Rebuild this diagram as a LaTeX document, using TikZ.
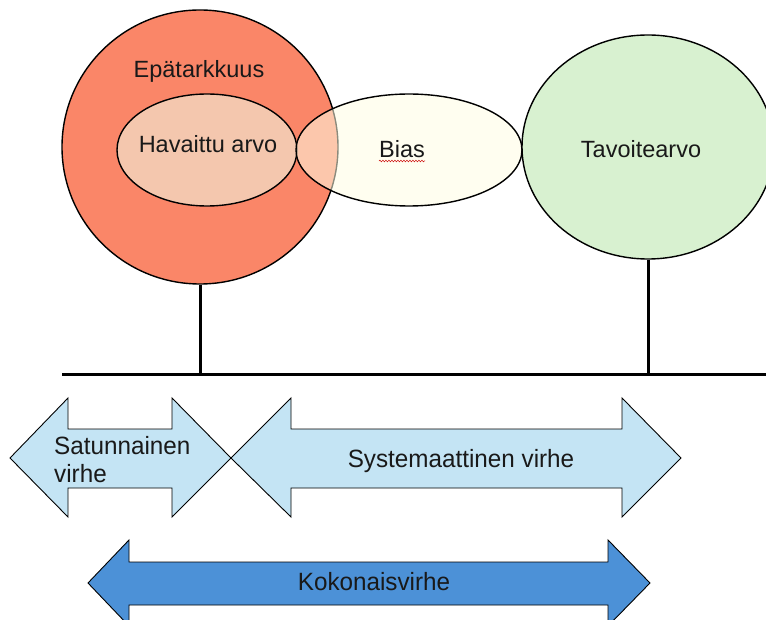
\documentclass[tikz,border=0pt]{standalone}
\usepackage{fontspec}
\setmainfont{Liberation Sans}
\usetikzlibrary{decorations.pathmorphing,shapes.geometric}
\definecolor{redfill}{RGB}{250,134,104}
\definecolor{innerfill}{RGB}{244,199,174}
\definecolor{biasfill}{RGB}{255,254,228}
\definecolor{greenfill}{RGB}{216,241,208}
\definecolor{lightarrow}{RGB}{196,228,244}
\definecolor{darkarrow}{RGB}{76,145,215}
\definecolor{txt}{RGB}{25,25,25}
\tikzset{
  shapeline/.style={draw=black, line width=1.4pt},
  stemline/.style={draw=black, line width=3pt},
  arrowshape/.style={draw=black, line width=0.9pt, line join=miter},
  lbl/.style={text=txt, font=\fontsize{23.5}{28}\selectfont, anchor=base, inner sep=0pt},
  albl/.style={text=txt, font=\fontsize{25}{30}\selectfont, inner sep=0pt, xscale=0.97},
}
\begin{document}
\begin{tikzpicture}[x=1pt,y=-1pt]
\useasboundingbox (0,0) rectangle (766,620);
\clip (0,0) rectangle (766,620);
% circles and ellipses
\node[ellipse, shapeline, fill=redfill, minimum width=276pt, minimum height=274pt, inner sep=0pt] (epa) at (200,147) {};
\node[ellipse, shapeline, fill=innerfill, minimum width=180pt, minimum height=112pt, inner sep=0pt] (hav) at (207,150) {};
\node[ellipse, shapeline, fill=biasfill, fill opacity=0.55, minimum width=226pt, minimum height=112pt, inner sep=0pt] (bias) at (409,150) {};
\node[ellipse, shapeline, fill=greenfill, minimum width=252pt, minimum height=224pt, inner sep=0pt] (tav) at (648,147) {};
% labels
\node[lbl] (tepa) at (199,78) {Epätarkkuus};
\node[lbl] (thav) at (208,153) {Havaittu arvo};
\node[lbl] (tbias) at (402,158) {Bias};
\node[lbl] (ttav) at (641,158) {Tavoitearvo};
\draw[red!80!black, line width=0.5pt, decorate, decoration={snake, amplitude=0.8pt, segment length=3pt}] ([yshift=-3pt]tbias.base west) -- ([yshift=-3pt]tbias.base east);
% axis
\coordinate (axL) at (62,375);
\coordinate (axR) at (770,375);
\draw[stemline] (axL) -- (axR);
\draw[stemline] (epa.south) -- (epa.south |- axL);
\draw[stemline] (tav.south) -- (tav.south |- axL);
% arrows
\draw[arrowshape, fill=lightarrow] (10,458) -- (68,398) -- (68,429) -- (172,429) -- (172,398) -- (231,458) -- (172,517) -- (172,488) -- (68,488) -- (68,517) -- cycle;
\draw[arrowshape, fill=lightarrow] (231,458) -- (291,398) -- (291,429) -- (622,429) -- (622,398) -- (681,458) -- (622,517) -- (622,488) -- (291,488) -- (291,517) -- cycle;
\draw[arrowshape, fill=darkarrow] (88,583) -- (129,540) -- (129,562) -- (608,562) -- (608,540) -- (650,583) -- (608,626) -- (608,605) -- (129,605) -- (129,626) -- cycle;
\node[albl, anchor=base west] (tsat1) at (54,454) {Satunnainen};
\node[albl, anchor=base west] (tsat2) at (54,482) {virhe};
\node[albl, anchor=base] (tsys) at (461,467) {Systemaattinen virhe};
\node[albl, anchor=base] (tkok) at (374,590) {Kokonaisvirhe};
\end{tikzpicture}
\end{document}
